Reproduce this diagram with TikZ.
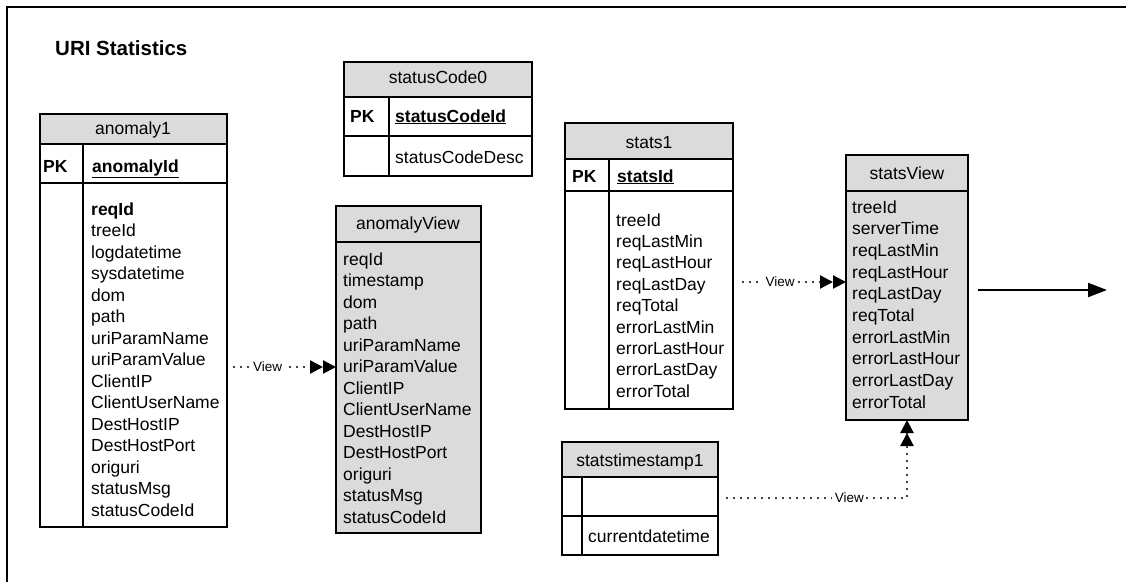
\documentclass[tikz,border=0pt]{standalone}
\usepackage{fontspec}
\setmainfont{Liberation Sans}
\usetikzlibrary{arrows.meta}
\newcommand\fsz{\fontsize{17.5}{21}\selectfont}
\newcommand\lsz{\fontsize{13.5}{16}\selectfont}
\definecolor{stip}{gray}{0.86}
\begin{document}
\begin{tikzpicture}[x=1pt,y=-1pt,
  box/.style={draw=black, line width=1.5pt, inner sep=0pt, outer sep=0pt, anchor=north west},
  rule/.style={line width=1.5pt},
  fld/.style={anchor=base west, inner sep=0pt, font=\fsz},
  ttl/.style={anchor=base, inner sep=0pt, font=\fsz},
  viewline/.style={line width=2.2pt, dash pattern=on 0pt off 7pt, line cap=round,
    -{Triangle[length=13pt,width=13pt]Triangle[length=13pt,width=13pt]}},
  vlabel/.style={font=\lsz, fill=white, inner sep=2.5pt},
]
\useasboundingbox (0,0) rectangle (1128,584);
% frame
\draw[line width=1.2pt] (7,582) -- (7,7) -- (1126,7);
\node[anchor=base west, inner sep=0pt, font=\bfseries\fontsize{20.5}{24}\selectfont] (title) at (55,55) {URI Statistics};

% anomaly1
\fill[stip] (40,114) rectangle (227,144);
\node[box, minimum width=187pt, minimum height=413pt] (a1) at (40,114) {};
\draw[rule] (40,144) -- (227,144) (40,183) -- (227,183) (83,144) -- (83,527);
\node[ttl] (a1t) at (133,134) {anomaly1};
\node[fld, font=\fsz\bfseries] (a1pk) at (43,172) {PK};
\node[fld] (a1id) at (92,172) {\textbf{\underline{anomalyId}}};
\foreach \t [count=\i] in {\textbf{reqId},treeId,logdatetime,sysdatetime,dom,path,uriParamName,uriParamValue,ClientIP,ClientUserName,DestHostIP,DestHostPort,origuri,statusMsg,statusCodeId}
  \node[fld] (a1f\i) at ({91},{215+21.5*(\i-1)}) {\t};

% statusCode0
\fill[stip] (344,62) rectangle (532,97);
\node[box, minimum width=188pt, minimum height=114pt] (sc) at (344,62) {};
\draw[rule] (344,97) -- (532,97) (344,136) -- (532,136) (389,97) -- (389,176);
\node[ttl] (sct) at (438,83) {statusCode0};
\node[fld, font=\fsz\bfseries] (scpk) at (350,122) {PK};
\node[fld] (scid) at (395,122) {\textbf{\underline{statusCodeId}}};
\node[fld] (scdesc) at (395,163) {statusCodeDesc};

% anomalyView
\node[box, fill=stip, minimum width=145pt, minimum height=327pt] (av) at (336,206) {};
\draw[rule] (336,242) -- (481,242);
\node[ttl] (avt) at (408,229) {anomalyView};
\foreach \t [count=\i] in {reqId,timestamp,dom,path,uriParamName,uriParamValue,ClientIP,ClientUserName,DestHostIP,DestHostPort,origuri,statusMsg,statusCodeId}
  \node[fld] (avf\i) at ({343},{265+21.5*(\i-1)}) {\t};

% stats1
\fill[stip] (565,123) rectangle (733,159);
\node[box, minimum width=168pt, minimum height=286pt] (s1) at (565,123) {};
\draw[rule] (565,159) -- (733,159) (565,191) -- (733,191) (609,159) -- (609,409);
\node[ttl] (s1t) at (649,148) {stats1};
\node[fld, font=\fsz\bfseries] (s1pk) at (572,182) {PK};
\node[fld] (s1id) at (617,182) {\textbf{\underline{statsId}}};
\foreach \t [count=\i] in {treeId,reqLastMin,reqLastHour,reqLastDay,reqTotal,errorLastMin,errorLastHour,errorLastDay,errorTotal}
  \node[fld] (s1f\i) at ({616},{226+21.4*(\i-1)}) {\t};

% statsView
\node[box, fill=stip, minimum width=122pt, minimum height=265pt] (sv) at (846,155) {};
\draw[rule] (846,191) -- (968,191);
\node[ttl] (svt) at (907,179) {statsView};
\foreach \t [count=\i] in {treeId,serverTime,reqLastMin,reqLastHour,reqLastDay,reqTotal,errorLastMin,errorLastHour,errorLastDay,errorTotal}
  \node[fld] (svf\i) at ({852},{213+21.7*(\i-1)}) {\t};

% statstimestamp1
\fill[stip] (562,442) rectangle (718,477);
\node[box, minimum width=156pt, minimum height=113pt] (st) at (562,442) {};
\draw[rule] (562,477) -- (718,477) (562,516) -- (718,516) (582,477) -- (582,555);
\node[ttl] (stt) at (640,466) {statstimestamp1};
\node[fld] (stf) at (588,542) {currentdatetime};

% connectors
\coordinate (c1) at (234,367);
\draw[viewline] (c1) -- (av.west |- c1) node[pos=0.33, vlabel] {View};
\coordinate (c2) at (743,282);
\draw[viewline] (c2) -- (sv.west |- c2) node[pos=0.36, vlabel] {View};
\coordinate (c3) at (727,498);
\coordinate (c3b) at (907,498);
\draw[viewline] (c3) -- (c3b) node[pos=0.68, vlabel] {View} -- (sv.south -| c3b);
\coordinate (out) at (1107,290);
\draw[line width=2.2pt, -{Triangle[length=19pt,width=14pt]}] (sv.east |- out) ++(10,0) -- (out);
\end{tikzpicture}
\end{document}
